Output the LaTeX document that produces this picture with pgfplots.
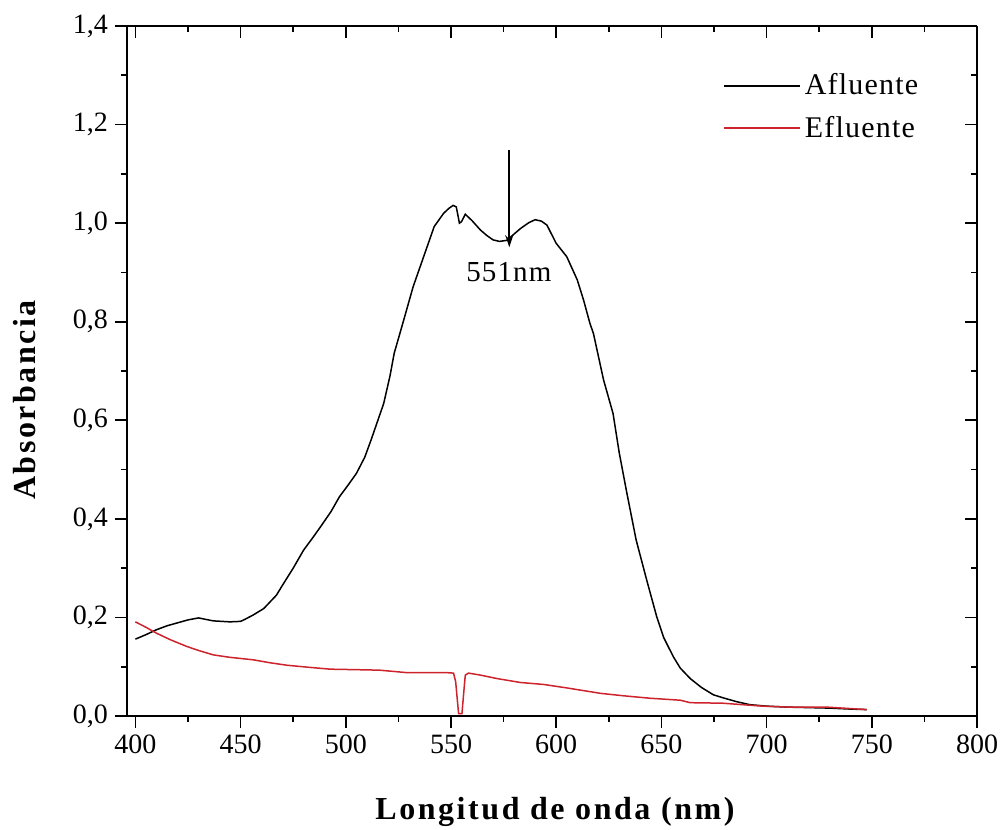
\documentclass[border=0pt]{standalone}
\usepackage{fontspec}
\setmainfont{Liberation Serif}
\usepackage{pgfplots}
\pgfplotsset{compat=1.18}
\usetikzlibrary{arrows.meta}
\definecolor{efl}{RGB}{205,35,45}

\begin{document}
\begin{tikzpicture}
\pgfplotsset{
 common/.style={
  scale only axis, width=425pt, height=345pt,
  xmin=396, xmax=800, ymin=0, ymax=1.4,
  xtick={400,450,500,550,600,650,700,750,800},
  ytick={0,0.2,0.4,0.6,0.8,1.0,1.2,1.4},
  minor x tick num=1, minor y tick num=1,
  major tick length=6pt, minor tick length=3pt,
  every tick/.style={black, line width=0.8pt},
  axis line style={line width=1pt},
 }}
\begin{axis}[common, name=main,
  axis x line*=bottom, axis y line*=left, tick align=outside,
  ticklabel style={font=\fontsize{14}{16}\selectfont},
  xticklabel style={/pgf/number format/.cd, fixed, precision=0, 1000 sep={}, assume math mode=true},
  yticklabel style={/pgf/number format/.cd, fixed, fixed zerofill, precision=1, use comma, assume math mode=true},
  xlabel={Longitud de onda (nm)},
  ylabel={Absorbancia},
  xlabel style={font=\fontsize{16}{18}\selectfont\bfseries\addfontfeatures{LetterSpace=8}, at={(axis description cs:0.5035,-0.139)}, anchor=center},
  ylabel style={font=\fontsize{16}{18}\selectfont\bfseries\addfontfeatures{LetterSpace=8}, at={(axis description cs:-0.12,0.458)}, anchor=center},
  legend style={draw=none, fill=none, at={(axis description cs:0.701,0.937)}, anchor=north west,
    font=\fontsize{15}{17}\selectfont\addfontfeatures{LetterSpace=4}, inner sep=0pt, row sep=5pt},
  legend cell align=left,
  legend image code/.code={\draw[#1,line width=0.8pt] (0pt,0pt) -- (38pt,0pt);},
]
\addplot[black, line width=0.75pt] coordinates {
(400,0.156) (405,0.165) (410,0.175) (415,0.183) (420,0.189) (425,0.195) (430,0.199)
(437,0.193) (445,0.191) (450,0.192) (452,0.196) (456,0.205) (461,0.218) (467,0.245)
(470,0.266) (475,0.300) (480,0.337) (484,0.360) (488,0.384) (493,0.415) (497,0.445)
(501,0.468) (505,0.492) (509,0.525) (512,0.560) (515,0.597) (518,0.634) (521,0.690)
(523,0.736) (527.5,0.803) (532,0.871) (537,0.932) (542,0.993) (546.5,1.020) (549,1.030)
(551,1.036) (552.5,1.033) (554,1.000) (555,1.003) (556.8,1.018) (560,1.005) (564,0.986)
(567,0.975) (570,0.966) (573,0.963) (576.5,0.965) (580,0.978) (583,0.989) (587,1.001)
(590,1.007) (593,1.004) (595.6,0.996) (600,0.959) (605,0.932) (610,0.885) (613,0.844)
(616,0.797) (617.7,0.776) (622.5,0.682) (627,0.614) (630,0.533) (633.6,0.452) (638,0.357)
(643,0.276) (647.8,0.201) (651,0.160) (655.7,0.120) (659,0.097) (663.7,0.076) (669,0.058)
(674.7,0.043) (680,0.036) (685.8,0.029) (692,0.023) (700,0.020) (710,0.018) (720,0.017)
(730,0.016) (740,0.014) (747.6,0.013)
};
\addlegendentry{Afluente}
\addplot[efl, line width=0.75pt] coordinates {
(400,0.191) (405,0.180) (410,0.168) (417,0.154) (424.5,0.141) (430,0.133) (437,0.124)
(445,0.119) (456,0.114) (464,0.108) (472,0.103) (482,0.099) (492.6,0.095) (505,0.094)
(516,0.093) (529,0.088) (540,0.088) (548,0.088) (551.2,0.087) (552.2,0.070) (553.6,0.005)
(555.2,0.005) (556.3,0.060) (556.8,0.083) (558.3,0.087) (564,0.083) (571.8,0.076)
(583,0.068) (594,0.064) (605,0.057) (621,0.046) (632,0.041) (644.7,0.036) (659,0.032)
(663.7,0.027) (679,0.026) (698,0.020) (711,0.018) (728.6,0.018) (747.6,0.013)
};
\addlegendentry{Efluente}
\draw[-{Stealth[length=6pt,width=4pt]}, line width=0.8pt] (axis cs:577.7,1.148) -- (axis cs:577.7,0.951);
\node[font=\fontsize{14.5}{16}\selectfont\addfontfeatures{LetterSpace=4}] at (axis cs:577.5,0.90) {551nm};
\end{axis}
\begin{axis}[common,
  axis x line*=top, axis y line*=right, tick align=inside,
  xticklabels={}, yticklabels={}]
\end{axis}
\pgfresetboundingbox
\path ([shift={(-63.5pt,-57pt)}]main.south west) rectangle ([shift={(13pt,13pt)}]main.north east);
\end{tikzpicture}
\end{document}
